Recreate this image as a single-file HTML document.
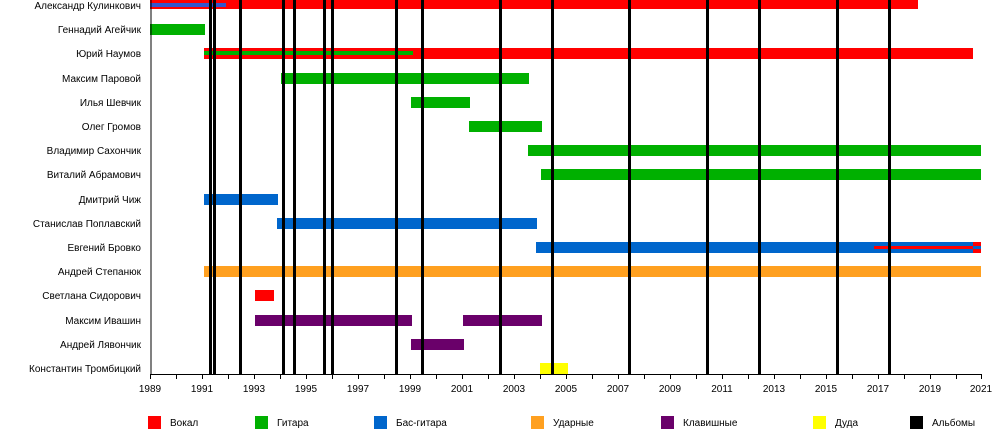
<!DOCTYPE html>
<html><head><meta charset="utf-8"><style>
body{margin:0;background:#fff;}
svg{display:block;font-family:"Liberation Sans",Arial,sans-serif;}
</style></head><body>
<svg width="1000" height="433" viewBox="0 0 1000 433" xmlns="http://www.w3.org/2000/svg">
<g font-size="10" text-anchor="end" fill="#000">
<text x="141" y="9">Александр Кулинкович</text>
<text x="141" y="33">Геннадий Агейчик</text>
<text x="141" y="57">Юрий Наумов</text>
<text x="141" y="82">Максим Паровой</text>
<text x="141" y="106">Илья Шевчик</text>
<text x="141" y="130">Олег Громов</text>
<text x="141" y="154">Владимир Сахончик</text>
<text x="141" y="178">Виталий Абрамович</text>
<text x="141" y="203">Дмитрий Чиж</text>
<text x="141" y="227">Станислав Поплавский</text>
<text x="141" y="251">Евгений Бровко</text>
<text x="141" y="275">Андрей Степанюк</text>
<text x="141" y="299">Светлана Сидорович</text>
<text x="141" y="324">Максим Ивашин</text>
<text x="141" y="348">Андрей Лявончик</text>
<text x="141" y="372">Константин Тромбицкий</text>
</g>
<rect x="150" y="0" width="768" height="9" fill="#ff0000"/>
<rect x="150" y="3" width="76" height="4" fill="#3355cc"/>
<rect x="150" y="24" width="55" height="11" fill="#00b000"/>
<rect x="204" y="48" width="769" height="11" fill="#ff0000"/>
<rect x="204" y="51" width="209" height="4" fill="#00b000"/>
<rect x="281" y="73" width="248" height="11" fill="#00b000"/>
<rect x="411" y="97" width="59" height="11" fill="#00b000"/>
<rect x="469" y="121" width="73" height="11" fill="#00b000"/>
<rect x="528" y="145" width="453" height="11" fill="#00b000"/>
<rect x="541" y="169" width="440" height="11" fill="#00b000"/>
<rect x="204" y="194" width="74" height="11" fill="#0066cc"/>
<rect x="277" y="218" width="260" height="11" fill="#0066cc"/>
<rect x="536" y="242" width="445" height="11" fill="#0066cc"/>
<rect x="973" y="242" width="8" height="11" fill="#ff0000"/>
<rect x="874" y="246" width="107" height="3" fill="#ff0000"/>
<rect x="973" y="246" width="8" height="3" fill="#0066cc"/>
<rect x="204" y="266" width="777" height="11" fill="#ffa020"/>
<rect x="255" y="290" width="19" height="11" fill="#ff0000"/>
<rect x="255" y="315" width="157" height="11" fill="#6a006a"/>
<rect x="463" y="315" width="79" height="11" fill="#6a006a"/>
<rect x="411" y="339" width="53" height="11" fill="#6a006a"/>
<rect x="540" y="363" width="28" height="11" fill="#ffff00"/>
<g fill="#000">
<rect x="209" y="0" width="3" height="374"/>
<rect x="213" y="0" width="3" height="374"/>
<rect x="239" y="0" width="3" height="374"/>
<rect x="282" y="0" width="3" height="374"/>
<rect x="293" y="0" width="3" height="374"/>
<rect x="323" y="0" width="3" height="374"/>
<rect x="331" y="0" width="3" height="374"/>
<rect x="395" y="0" width="3" height="374"/>
<rect x="421" y="0" width="3" height="374"/>
<rect x="499" y="0" width="3" height="374"/>
<rect x="551" y="0" width="3" height="374"/>
<rect x="628" y="0" width="3" height="374"/>
<rect x="706" y="0" width="3" height="374"/>
<rect x="758" y="0" width="3" height="374"/>
<rect x="836" y="0" width="3" height="374"/>
<rect x="888" y="0" width="3" height="374"/>
</g>
<line x1="151" y1="0" x2="151" y2="374.5" stroke="#000" stroke-width="1"/>
<line x1="150" y1="374.5" x2="982" y2="374.5" stroke="#000" stroke-width="1"/>
<g stroke="#000" stroke-width="1">
<path d="M150.5 374v5M176.5 374v5M202.5 374v5M228.5 374v5M254.5 374v5M280.5 374v5M306.5 374v5M332.5 374v5M358.5 374v5M384.5 374v5M410.5 374v5M436.5 374v5M462.5 374v5M488.5 374v5M514.5 374v5M540.5 374v5M566.5 374v5M592.5 374v5M618.5 374v5M644.5 374v5M670.5 374v5M696.5 374v5M722.5 374v5M748.5 374v5M774.5 374v5M800.5 374v5M826.5 374v5M852.5 374v5M878.5 374v5M904.5 374v5M930.5 374v5M956.5 374v5M981.5 374v5"/>
</g>
<g font-size="10" text-anchor="middle">
<text x="150" y="392">1989</text><text x="202" y="392">1991</text><text x="254" y="392">1993</text><text x="306" y="392">1995</text><text x="358" y="392">1997</text><text x="410" y="392">1999</text><text x="462" y="392">2001</text><text x="514" y="392">2003</text><text x="566" y="392">2005</text><text x="618" y="392">2007</text><text x="670" y="392">2009</text><text x="722" y="392">2011</text><text x="774" y="392">2013</text><text x="826" y="392">2015</text><text x="878" y="392">2017</text><text x="930" y="392">2019</text><text x="981" y="392">2021</text>
</g>
<g font-size="10">
<rect x="148" y="416" width="13" height="13" fill="#ff0000"/><text x="170" y="426">Вокал</text>
<rect x="255" y="416" width="13" height="13" fill="#00b000"/><text x="277" y="426">Гитара</text>
<rect x="374" y="416" width="13" height="13" fill="#0066cc"/><text x="396" y="426">Бас-гитара</text>
<rect x="531" y="416" width="13" height="13" fill="#ffa020"/><text x="553" y="426">Ударные</text>
<rect x="661" y="416" width="13" height="13" fill="#6a006a"/><text x="683" y="426">Клавишные</text>
<rect x="813" y="416" width="13" height="13" fill="#ffff00"/><text x="835" y="426">Дуда</text>
<rect x="910" y="416" width="13" height="13" fill="#000"/><text x="932" y="426">Альбомы</text>
</g>
</svg>
</body></html>
